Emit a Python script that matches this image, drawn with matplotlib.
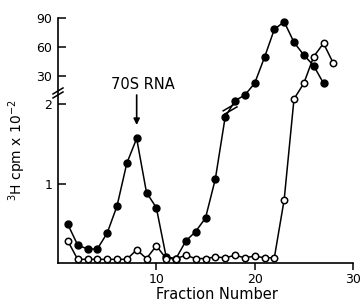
import numpy as np
import matplotlib
matplotlib.use("Agg")
import matplotlib.pyplot as plt
from matplotlib.lines import Line2D
from matplotlib.transforms import IdentityTransform
from matplotlib.ticker import NullLocator

# fraction number -> 3H cpm x 10^-2 (lower part 0-2, upper part compressed)
filled_x = list(range(1, 28))
filled_y = [0.49, 0.23, 0.18, 0.18, 0.38, 0.72, 1.26, 1.57, 0.89, 0.70,
            0.08, 0.06, 0.28, 0.40, 0.57, 1.06, 1.84, 3.9, 9.8, 22.1,
            49.2, 78.5, 86.4, 64.9, 51.6, 40.5, 22.1]
open_x = list(range(1, 29))
open_y = [0.28, 0.05, 0.05, 0.05, 0.05, 0.05, 0.05, 0.17, 0.06, 0.22,
          0.06, 0.06, 0.10, 0.06, 0.06, 0.08, 0.07, 0.10, 0.07, 0.09,
          0.07, 0.07, 0.80, 5.7, 22.1, 49.9, 63.9, 43.0]

y_ticks = [1, 2, 30, 60, 90]
x_ticks = [10, 20, 30]

# broken y axis: linear up to 2, then squeezed
GAP = 0.0226
K = 0.01204


def fwd(y):
    y = np.asarray(y, dtype=float)
    return np.where(y <= 2, y, 2 + GAP + (y - 2) * K)


def inv(t):
    t = np.asarray(t, dtype=float)
    up = 2 + (t - 2 - GAP) / K
    return np.where(t <= 2, t, np.where(t < 2 + GAP, 2.0, up))


fig = plt.figure(figsize=(3.63, 3.04), dpi=100)
ax = fig.add_axes([58 / 363, (304 - 263.3) / 304, 295 / 363, 245 / 304])
ax.set_yscale('function', functions=(fwd, inv))
ax.set_xlim(0, 30)
ax.set_ylim(0, 90)

ax.plot(filled_x, filled_y, color='black', lw=1.1, marker='o',
        markersize=5, markerfacecolor='black', markeredgecolor='black', zorder=3)
ax.plot(open_x, open_y, color='black', lw=1.1, marker='o',
        markersize=4.6, markerfacecolor='white', markeredgecolor='black',
        markeredgewidth=1.1, zorder=4)

ax.spines['top'].set_visible(False)
ax.spines['right'].set_visible(False)
for s in ['left', 'bottom']:
    ax.spines[s].set_linewidth(1.2)

ax.set_xticks(x_ticks)
ax.set_xticklabels([str(v) for v in x_ticks])
ax.set_yticks(y_ticks)
ax.set_yticklabels([str(v) for v in y_ticks])
ax.yaxis.set_minor_locator(NullLocator())
ax.xaxis.set_minor_locator(NullLocator())
ax.tick_params(axis='y', direction='in', length=6, width=1.1, labelsize=9, pad=4)
ax.tick_params(axis='x', direction='out', length=5, width=1.1, labelsize=9, pad=2)

ax.set_xlabel('Fraction Number', fontsize=10.5, labelpad=1)
ax.xaxis.label.set_x(0.54)
ax.set_ylabel(r'$^3$H cpm x 10$^{-2}$', fontsize=10, labelpad=6)
ax.yaxis.label.set_y(0.46)

# 70S RNA marker
ax.annotate('', xy=(8, 1.74), xytext=(0, 30), textcoords='offset pixels',
            arrowprops=dict(arrowstyle='-|>', color='black', lw=1.2,
                            mutation_scale=9, shrinkA=0, shrinkB=0))
ax.annotate('70S RNA', xy=(8, 1.74), xytext=(6, 40), textcoords='offset pixels',
            ha='center', va='center', fontsize=10.5)

# break marks on the y axis and on the filled curve
ident = IdentityTransform()
bx, by = ax.transData.transform((0, 12))
for dy in (-2, 2):
    fig.add_artist(Line2D([bx - 5, bx + 5], [by + dy - 3, by + dy + 3],
                          color='black', lw=1.1, transform=ident))
p1 = ax.transData.transform((filled_x[16], filled_y[16]))
p2 = ax.transData.transform((filled_x[17], filled_y[17]))
mx, my = (p1 + p2) / 2
for s in (-1.8, 1.8):
    cx, cy = mx - 0.5 * s, my + 0.86 * s
    fig.add_artist(Line2D([cx - 6, cx + 6], [cy - 3.5, cy + 3.5],
                          color='black', lw=1.1, transform=ident))

fig.savefig('out.png', dpi=100)
